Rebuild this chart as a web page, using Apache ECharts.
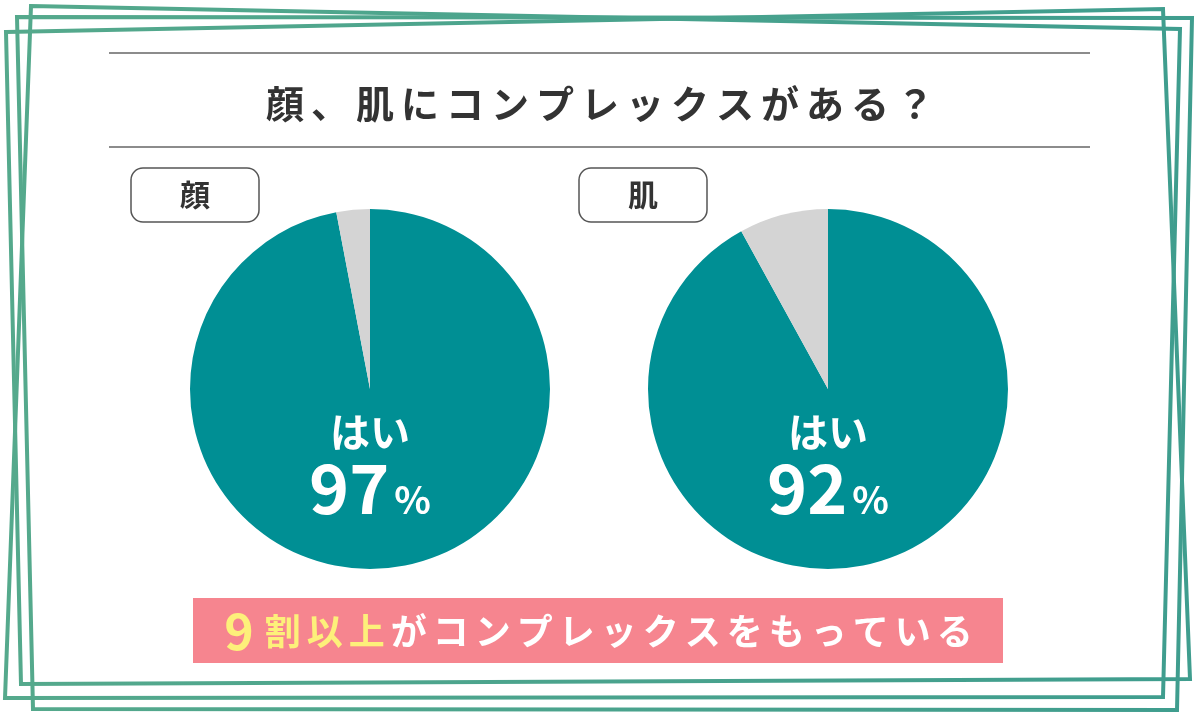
<!DOCTYPE html>
<html>
<head>
<meta charset="utf-8">
<script src="https://cdn.jsdelivr.net/npm/echarts@6/dist/echarts.min.js"></script>
<style>
  html, body { margin: 0; padding: 0; background: #ffffff; }
  #main { width: 1200px; height: 716px; }
</style>
</head>
<body>
<div id="main"></div>
<script>
// data
var categories = ['顔', '肌'];
var answers = ['はい', 'いいえ'];
var yesValues = [97, 92];
var noValues = [3, 8];
var chartTitle = '顔、肌にコンプレックスがある？';
var bannerNumber = '9';
var bannerHighlight = '割以上';
var bannerRest = 'がコンプレックスをもっている';

var myChart = echarts.init(document.getElementById('main'));

function spaced(str, style) {
    return str.split('').map(function (c) { return '{' + style + '|' + c + '}'; }).join('');
}

var teal = '#008f94';
var gray = '#d4d4d4';
var frameColor = new echarts.graphic.LinearGradient(0, 0, 1, 0, [
    { offset: 0, color: '#55a98c' },
    { offset: 1, color: '#3f9d8e' }
]);

var pieX = [370, 828];

var series = categories.map(function (cat, i) {
    return {
        name: cat,
        type: 'pie',
        center: [pieX[i], 389],
        radius: 180,
        startAngle: 90,
        clockwise: true,
        silent: true,
        labelLine: { show: false },
        emphasis: { disabled: true },
        data: [
            {
                value: yesValues[i],
                name: answers[0],
                itemStyle: { color: teal },
                label: {
                    show: true,
                    position: 'center',
                    formatter: '{a|{b}}\n{v|{c}}{p|%}',
                    padding: [152, 0, 0, 0],
                    rich: {
                        a: { fontSize: 40, lineHeight: 46, fontWeight: 'bold', color: '#fff', fontFamily: 'Noto Sans CJK JP' },
                        v: { fontSize: 68, lineHeight: 66, fontWeight: 'bold', color: '#fff', fontFamily: 'Noto Sans CJK JP' },
                        p: { fontSize: 38, lineHeight: 66, fontWeight: 'bold', color: '#fff', fontFamily: 'Noto Sans CJK JP', verticalAlign: 'bottom', padding: [0, 0, 2, 5] }
                    }
                }
            },
            {
                value: noValues[i],
                name: answers[1],
                itemStyle: { color: gray },
                label: { show: false }
            }
        ]
    };
});

var boxLabels = categories.map(function (cat, i) {
    return {
        text: cat,
        left: [131, 579][i],
        top: 168,
        padding: [12, 49, 12, 49],
        borderColor: '#555',
        borderWidth: 1.5,
        borderRadius: 12,
        textStyle: { fontSize: 30, lineHeight: 30, fontWeight: 'bold', color: '#333', fontFamily: 'Noto Sans CJK JP' }
    };
});

var frames = [
    [[31, 6], [1180, 29], [1163, 697], [5, 698]],
    [[17, 17], [1192, 18], [1177, 710], [33, 709]],
    [[6, 32], [1163, 9], [1190, 679], [21, 684]]
];

option = {
    backgroundColor: '#ffffff',
    animation: false,
    title: [
        {
            text: spaced(chartTitle, 't'),
            left: 'center',
            top: 79,
            padding: 0,
            textStyle: {
                rich: {
                    t: { fontSize: 38, lineHeight: 50, fontWeight: 'bold', color: '#333', fontFamily: 'Noto Sans CJK JP', padding: [0, 3.5] }
                }
            }
        },
        {
            text: '{n|' + bannerNumber + '}' + spaced(bannerHighlight, 'y') + spaced(bannerRest, 'w'),
            left: 'center',
            top: 606,
            padding: 0,
            textStyle: {
                rich: {
                    n: { fontSize: 50, lineHeight: 50, fontWeight: 'bold', color: '#fdf07a', fontFamily: 'Noto Sans CJK JP', padding: [0, 8, 0, 0] },
                    y: { fontSize: 36, lineHeight: 50, fontWeight: 'bold', color: '#fdf07a', fontFamily: 'Noto Sans CJK JP', padding: [0, 3] },
                    w: { fontSize: 36, lineHeight: 50, fontWeight: 'bold', color: '#ffffff', fontFamily: 'Noto Sans CJK JP', padding: [0, 3] }
                }
            }
        }
    ].concat(boxLabels),
    graphic: frames.map(function (pts) {
        return {
            type: 'polygon',
            silent: true,
            z: 1,
            shape: { points: pts },
            style: { fill: 'none', stroke: frameColor, lineWidth: 4 }
        };
    }).concat([
        { type: 'line', silent: true, shape: { x1: 109, y1: 53, x2: 1090, y2: 53 }, style: { stroke: '#8c8c8c', lineWidth: 2 } },
        { type: 'line', silent: true, shape: { x1: 109, y1: 147, x2: 1090, y2: 147 }, style: { stroke: '#8c8c8c', lineWidth: 2 } },
        { type: 'rect', silent: true, z: -1, shape: { x: 193, y: 598, width: 810, height: 65 }, style: { fill: '#f6858f' } }
    ]),
    series: series
};
myChart.setOption(option);
</script>
</body>
</html>
